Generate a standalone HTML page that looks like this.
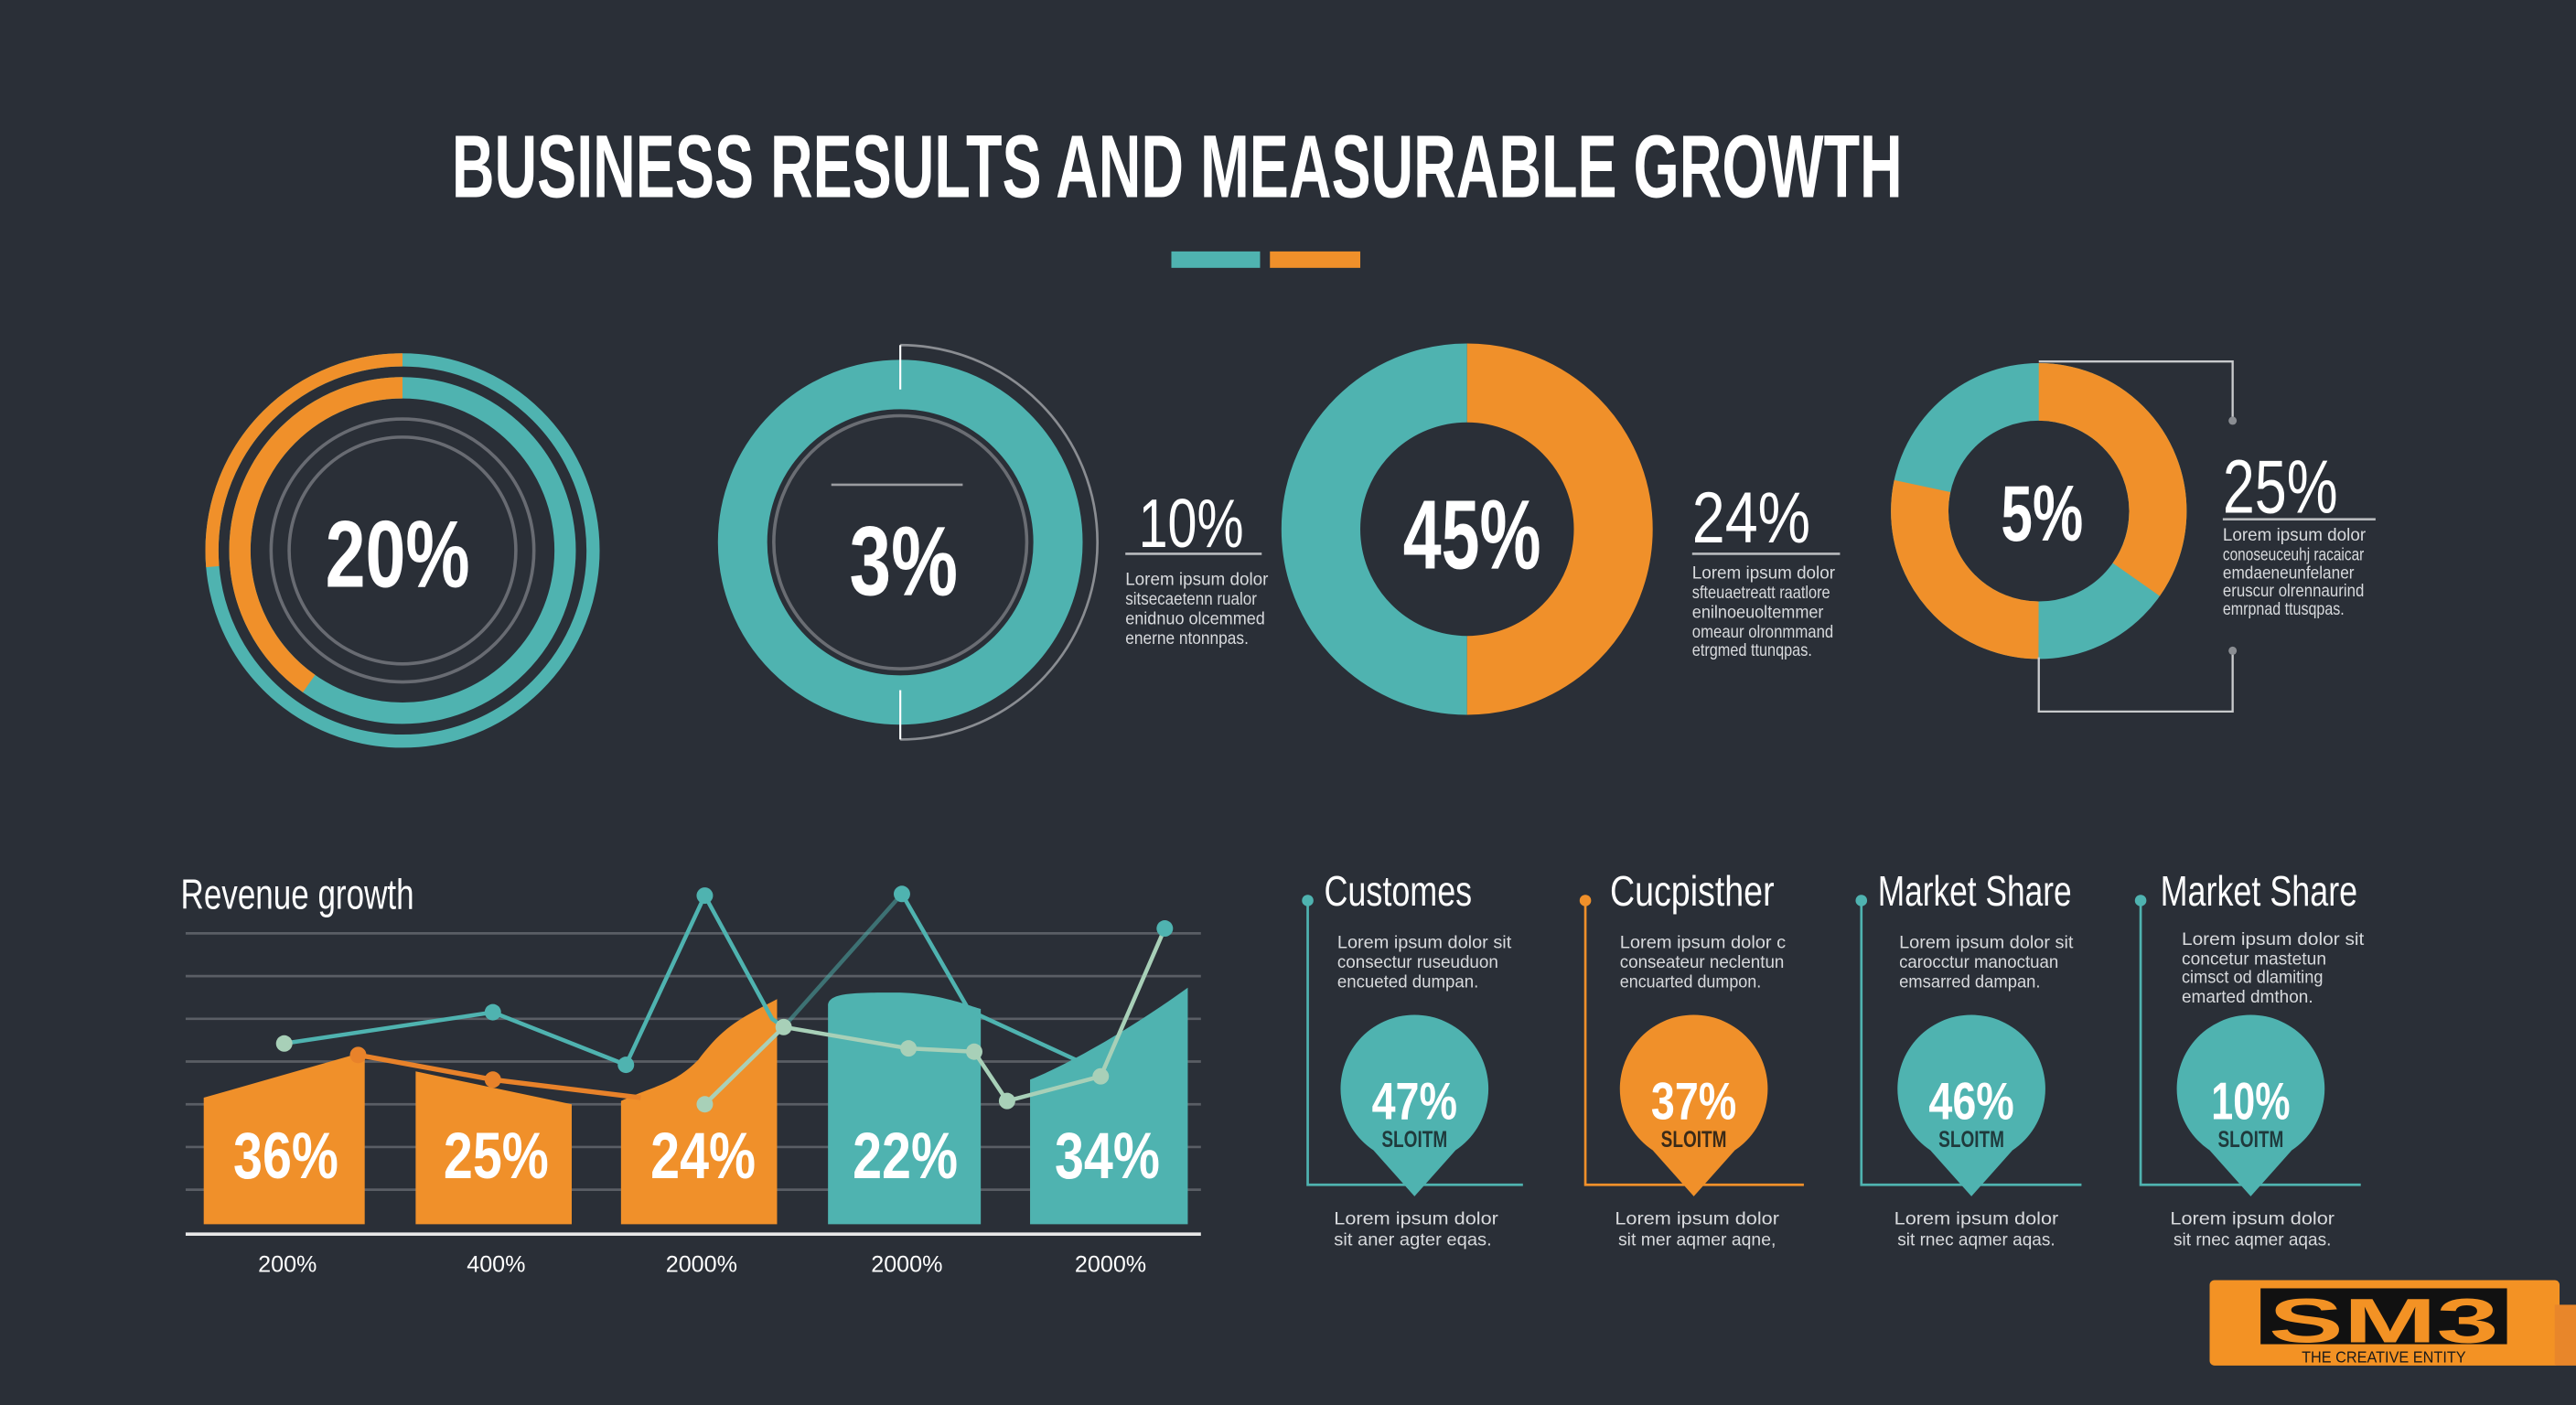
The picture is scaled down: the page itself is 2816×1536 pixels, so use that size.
<!DOCTYPE html>
<html><head><meta charset="utf-8"><style>
html,body{margin:0;padding:0;background:#2a2f37;}
svg{display:block}
text{font-family:"Liberation Sans Narrow","Liberation Sans",sans-serif;}
.w{fill:#fff}
.l{fill:#d8dadd;font-size:11px}
</style></head><body>
<svg width="2816" height="1536" viewBox="0 0 1568 855" preserveAspectRatio="none" xmlns="http://www.w3.org/2000/svg">
<rect width="1568" height="855" fill="#2a2f37"/>
<!-- Title -->
<text x="275" y="120" class="w" font-size="54" font-weight="bold" textLength="883" lengthAdjust="spacingAndGlyphs">BUSINESS RESULTS AND MEASURABLE GROWTH</text>
<rect x="713" y="153" width="54" height="10" fill="#4fb3b0"/>
<rect x="773" y="153" width="55" height="10" fill="#f0902a"/>

<!-- Donut 1 -->
<g transform="translate(245,335)">
<circle r="116" fill="none" stroke="#4fb3b0" stroke-width="8"/>
<circle r="116" fill="none" stroke="#f0902a" stroke-width="8" transform="rotate(-90)" stroke-dasharray="0 536.6 192.3 1000"/>
<circle r="99" fill="none" stroke="#4fb3b0" stroke-width="13"/>
<circle r="99" fill="none" stroke="#f0902a" stroke-width="13" transform="rotate(-90)" stroke-dasharray="0 371.5 250.5 1000"/>
<circle r="80" fill="none" stroke="#686b72" stroke-width="2"/>
<circle r="69" fill="none" stroke="#686b72" stroke-width="2"/>
<text x="-3" y="22" text-anchor="middle" class="w" font-size="58" font-weight="bold" textLength="88" lengthAdjust="spacingAndGlyphs">20%</text>
</g>

<!-- Donut 2 -->
<g transform="translate(548,330)">
<circle r="96" fill="none" stroke="#4fb3b0" stroke-width="30"/>
<circle r="77" fill="none" stroke="#6a6d73" stroke-width="2"/>
<path d="M0,-120 A120,120 0 0 1 0,120" fill="none" stroke="#8a8d92" stroke-width="1.5"/>
<line x1="0" y1="-120" x2="0" y2="-93" stroke="#fff" stroke-width="1.2"/>
<line x1="0" y1="90" x2="0" y2="120" stroke="#fff" stroke-width="1.2"/>
<line x1="-42" y1="-35" x2="38" y2="-35" stroke="#9a9ca0" stroke-width="1.5"/>
<text x="2" y="32" text-anchor="middle" class="w" font-size="60" font-weight="bold" textLength="66" lengthAdjust="spacingAndGlyphs">3%</text>
</g>
<text x="693" y="333" class="w" font-size="42" textLength="64" lengthAdjust="spacingAndGlyphs">10%</text>
<line x1="685" y1="337" x2="768" y2="337" stroke="#b8babd" stroke-width="1.5"/>
<text x="685" y="356" class="l" textLength="87" lengthAdjust="spacingAndGlyphs">Lorem ipsum dolor</text>
<text x="685" y="368" class="l" textLength="80" lengthAdjust="spacingAndGlyphs">sitsecaetenn rualor</text>
<text x="685" y="380" class="l" textLength="85" lengthAdjust="spacingAndGlyphs">enidnuo olcemmed</text>
<text x="685" y="392" class="l" textLength="75" lengthAdjust="spacingAndGlyphs">enerne ntonnpas.</text>

<!-- Donut 3 -->
<g transform="translate(893,322)">
<path d="M0,-89 A89,89 0 0 0 0,89" fill="none" stroke="#4fb3b0" stroke-width="48"/>
<path d="M0,-89 A89,89 0 0 1 0,89" fill="none" stroke="#f0902a" stroke-width="48"/>
<text x="3" y="24" text-anchor="middle" class="w" font-size="60" font-weight="bold" textLength="84" lengthAdjust="spacingAndGlyphs">45%</text>
</g>
<text x="1030" y="330" class="w" font-size="44" textLength="72" lengthAdjust="spacingAndGlyphs">24%</text>
<line x1="1030" y1="337" x2="1120" y2="337" stroke="#b8babd" stroke-width="1.5"/>
<text x="1030" y="352" class="l" textLength="87" lengthAdjust="spacingAndGlyphs">Lorem ipsum dolor</text>
<text x="1030" y="364" class="l" textLength="84" lengthAdjust="spacingAndGlyphs">sfteuaetreatt raatlore</text>
<text x="1030" y="376" class="l" textLength="80" lengthAdjust="spacingAndGlyphs">enilnoeuoltemmer</text>
<text x="1030" y="388" class="l" textLength="86" lengthAdjust="spacingAndGlyphs">omeaur olronmmand</text>
<text x="1030" y="399" class="l" textLength="73" lengthAdjust="spacingAndGlyphs">etrgmed ttunqpas.</text>

<!-- Donut 4 -->
<g transform="translate(1241,311)">
<circle r="72.5" fill="none" stroke="#4fb3b0" stroke-width="35"/>
<circle r="72.5" fill="none" stroke="#f0902a" stroke-width="35" transform="rotate(-90)" stroke-dasharray="0 0 158.2 69.6 129 1000"/>
<text x="2" y="18" text-anchor="middle" class="w" font-size="48" font-weight="bold" textLength="50" lengthAdjust="spacingAndGlyphs">5%</text>
</g>
<polyline points="1241,220 1359,220 1359,255" fill="none" stroke="#c8cacc" stroke-width="1.3"/>
<circle cx="1359" cy="256" r="2.5" fill="#8a8d92"/>
<polyline points="1359,397 1359,433 1241,433 1241,400" fill="none" stroke="#c8cacc" stroke-width="1.3"/>
<circle cx="1359" cy="396" r="2.5" fill="#8a8d92"/>
<text x="1353" y="312" class="w" font-size="46" textLength="70" lengthAdjust="spacingAndGlyphs">25%</text>
<line x1="1353" y1="316" x2="1446" y2="316" stroke="#b8babd" stroke-width="1.5"/>
<text x="1353" y="329" class="l" textLength="87" lengthAdjust="spacingAndGlyphs">Lorem ipsum dolor</text>
<text x="1353" y="341" class="l" textLength="86" lengthAdjust="spacingAndGlyphs">conoseuceuhj racaicar</text>
<text x="1353" y="352" class="l" textLength="80" lengthAdjust="spacingAndGlyphs">emdaeneunfelaner</text>
<text x="1353" y="363" class="l" textLength="86" lengthAdjust="spacingAndGlyphs">eruscur olrennaurind</text>
<text x="1353" y="374" class="l" textLength="74" lengthAdjust="spacingAndGlyphs">emrpnad ttusqpas.</text>

<!-- Revenue chart -->
<text x="110" y="553" class="w" font-size="26" textLength="142" lengthAdjust="spacingAndGlyphs">Revenue growth</text>
<g stroke="#5a5e65" stroke-width="1.5">
<line x1="113" y1="568" x2="731" y2="568"/><line x1="113" y1="594" x2="731" y2="594"/>
<line x1="113" y1="620" x2="731" y2="620"/><line x1="113" y1="646" x2="731" y2="646"/>
<line x1="113" y1="672" x2="731" y2="672"/><line x1="113" y1="698" x2="731" y2="698"/>
<line x1="113" y1="724" x2="731" y2="724"/>
</g>
<path d="M124,668 L222,640 L222,745 L124,745Z" fill="#f0902a"/>
<path d="M253,652 L348,672 L348,745 L253,745Z" fill="#f0902a"/>
<path d="M378,670 C400,660 410,660 425,645 C440,625 450,620 473,608 L473,745 L378,745Z" fill="#f0902a"/>
<path d="M504,612 C504,604 520,604 545,604 C570,604 590,612 597,614 L597,745 L504,745Z" fill="#4fb3b0"/>
<path d="M627,657 C650,648 690,625 723,601 L723,745 L627,745Z" fill="#4fb3b0"/>
<polyline points="218,642 300,657 390,668" fill="none" stroke="#e8822a" stroke-width="3"/>
<circle cx="218" cy="642" r="5" fill="#e8822a"/><circle cx="300" cy="657" r="5" fill="#e8822a"/>
<polyline points="173,635 300,616 381,648 429,545 470,620 477,625" fill="none" stroke="#4fb3b0" stroke-width="2.5"/>
<polyline points="549,544 590,615 655,645" fill="none" stroke="#4fb3b0" stroke-width="2.5"/>
<polyline points="477,625 549,544" fill="none" stroke="#4fb3b0" stroke-width="2.5" stroke-opacity="0.5"/>
<polyline points="429,672 477,625 553,638 593,640 613,670 670,655 709,565" fill="none" stroke="#a8d0b8" stroke-width="2.5"/>
<g fill="#4fb3b0"><circle cx="300" cy="616" r="5"/><circle cx="381" cy="648" r="5"/><circle cx="429" cy="545" r="5"/><circle cx="549" cy="544" r="5"/><circle cx="709" cy="565" r="5"/></g>
<g fill="#a8d0b8"><circle cx="173" cy="635" r="5"/><circle cx="429" cy="672" r="5"/><circle cx="477" cy="625" r="5"/><circle cx="553" cy="638" r="5"/><circle cx="593" cy="640" r="5"/><circle cx="613" cy="670" r="5"/><circle cx="670" cy="655" r="5"/></g>
<g class="w" font-size="40" font-weight="bold" text-anchor="middle">
<text x="174" y="717" textLength="64" lengthAdjust="spacingAndGlyphs">36%</text>
<text x="302" y="717" textLength="64" lengthAdjust="spacingAndGlyphs">25%</text>
<text x="428" y="717" textLength="64" lengthAdjust="spacingAndGlyphs">24%</text>
<text x="551" y="717" textLength="64" lengthAdjust="spacingAndGlyphs">22%</text>
<text x="674" y="717" textLength="64" lengthAdjust="spacingAndGlyphs">34%</text>
</g>
<line x1="113" y1="751" x2="731" y2="751" stroke="#e8e8e8" stroke-width="2"/>
<g class="w" font-size="14" text-anchor="middle">
<text x="175" y="774">200%</text><text x="302" y="774">400%</text><text x="427" y="774">2000%</text><text x="552" y="774">2000%</text><text x="676" y="774">2000%</text>
</g>

<!-- Right panels -->
<g id="p1">
<circle cx="796" cy="548" r="3.5" fill="#4fb3b0"/>
<polyline points="796,548 796,721 927,721" fill="none" stroke="#4fb3b0" stroke-width="1.5"/>
<text x="806" y="551" class="w" font-size="26" textLength="90" lengthAdjust="spacingAndGlyphs">Customes</text>
<text x="814" y="577" class="l" textLength="106" lengthAdjust="spacingAndGlyphs">Lorem ipsum dolor sit</text>
<text x="814" y="589" class="l" textLength="98" lengthAdjust="spacingAndGlyphs">consectur ruseuduon</text>
<text x="814" y="601" class="l" textLength="86" lengthAdjust="spacingAndGlyphs">encueted dumpan.</text>
<path d="M861,728 L836,700 A45,45 0 1 1 886,700Z" fill="#4fb3b0"/>
<text x="861" y="681" text-anchor="middle" class="w" font-size="32" font-weight="bold" textLength="52" lengthAdjust="spacingAndGlyphs">47%</text>
<text x="861" y="698" text-anchor="middle" fill="#1f3a3c" font-size="14" font-weight="bold" textLength="40" lengthAdjust="spacingAndGlyphs">SLOITM</text>
<text x="862" y="745" text-anchor="middle" class="l" font-size="12" textLength="100" lengthAdjust="spacingAndGlyphs">Lorem ipsum dolor</text>
<text x="860" y="758" text-anchor="middle" class="l" font-size="12" textLength="96" lengthAdjust="spacingAndGlyphs">sit aner agter eqas.</text>
</g>
<g>
<circle cx="965" cy="548" r="3.5" fill="#f0902a"/>
<polyline points="965,548 965,721 1098,721" fill="none" stroke="#f0902a" stroke-width="1.5"/>
<text x="980" y="551" class="w" font-size="26" textLength="100" lengthAdjust="spacingAndGlyphs">Cucpisther</text>
<text x="986" y="577" class="l" textLength="101" lengthAdjust="spacingAndGlyphs">Lorem ipsum dolor c</text>
<text x="986" y="589" class="l" textLength="100" lengthAdjust="spacingAndGlyphs">conseateur neclentun</text>
<text x="986" y="601" class="l" textLength="86" lengthAdjust="spacingAndGlyphs">encuarted dumpon.</text>
<path d="M1031,728 L1006,700 A45,45 0 1 1 1056,700Z" fill="#f0902a"/>
<text x="1031" y="681" text-anchor="middle" class="w" font-size="32" font-weight="bold" textLength="52" lengthAdjust="spacingAndGlyphs">37%</text>
<text x="1031" y="698" text-anchor="middle" fill="#3a2a18" font-size="14" font-weight="bold" textLength="40" lengthAdjust="spacingAndGlyphs">SLOITM</text>
<text x="1033" y="745" text-anchor="middle" class="l" font-size="12" textLength="100" lengthAdjust="spacingAndGlyphs">Lorem ipsum dolor</text>
<text x="1033" y="758" text-anchor="middle" class="l" font-size="12" textLength="96" lengthAdjust="spacingAndGlyphs">sit mer aqmer aqne,</text>
</g>
<g>
<circle cx="1133" cy="548" r="3.5" fill="#4fb3b0"/>
<polyline points="1133,548 1133,721 1267,721" fill="none" stroke="#4fb3b0" stroke-width="1.5"/>
<text x="1143" y="551" class="w" font-size="26" textLength="118" lengthAdjust="spacingAndGlyphs">Market Share</text>
<text x="1156" y="577" class="l" textLength="106" lengthAdjust="spacingAndGlyphs">Lorem ipsum dolor sit</text>
<text x="1156" y="589" class="l" textLength="97" lengthAdjust="spacingAndGlyphs">carocctur manoctuan</text>
<text x="1156" y="601" class="l" textLength="86" lengthAdjust="spacingAndGlyphs">emsarred dampan.</text>
<path d="M1200,728 L1175,700 A45,45 0 1 1 1225,700Z" fill="#4fb3b0"/>
<text x="1200" y="681" text-anchor="middle" class="w" font-size="32" font-weight="bold" textLength="52" lengthAdjust="spacingAndGlyphs">46%</text>
<text x="1200" y="698" text-anchor="middle" fill="#1f3a3c" font-size="14" font-weight="bold" textLength="40" lengthAdjust="spacingAndGlyphs">SLOITM</text>
<text x="1203" y="745" text-anchor="middle" class="l" font-size="12" textLength="100" lengthAdjust="spacingAndGlyphs">Lorem ipsum dolor</text>
<text x="1203" y="758" text-anchor="middle" class="l" font-size="12" textLength="96" lengthAdjust="spacingAndGlyphs">sit rnec aqmer aqas.</text>
</g>
<g>
<circle cx="1303" cy="548" r="3.5" fill="#4fb3b0"/>
<polyline points="1303,548 1303,721 1437,721" fill="none" stroke="#4fb3b0" stroke-width="1.5"/>
<text x="1315" y="551" class="w" font-size="26" textLength="120" lengthAdjust="spacingAndGlyphs">Market Share</text>
<text x="1328" y="575" class="l" textLength="111" lengthAdjust="spacingAndGlyphs">Lorem ipsum dolor sit</text>
<text x="1328" y="587" class="l" textLength="88" lengthAdjust="spacingAndGlyphs">concetur mastetun</text>
<text x="1328" y="598" class="l" textLength="86" lengthAdjust="spacingAndGlyphs">cimsct od dlamiting</text>
<text x="1328" y="610" class="l" textLength="80" lengthAdjust="spacingAndGlyphs">emarted dmthon.</text>
<path d="M1370,728 L1345,700 A45,45 0 1 1 1395,700Z" fill="#4fb3b0"/>
<text x="1370" y="681" text-anchor="middle" class="w" font-size="32" font-weight="bold" textLength="48" lengthAdjust="spacingAndGlyphs">10%</text>
<text x="1370" y="698" text-anchor="middle" fill="#1f3a3c" font-size="14" font-weight="bold" textLength="40" lengthAdjust="spacingAndGlyphs">SLOITM</text>
<text x="1371" y="745" text-anchor="middle" class="l" font-size="12" textLength="100" lengthAdjust="spacingAndGlyphs">Lorem ipsum dolor</text>
<text x="1371" y="758" text-anchor="middle" class="l" font-size="12" textLength="96" lengthAdjust="spacingAndGlyphs">sit rnec aqmer aqas.</text>
</g>

<!-- Logo -->
<rect x="1345" y="779" width="213" height="52" rx="3" fill="#f39224"/>
<rect x="1555" y="794" width="13" height="37" fill="#e8862a"/>
<rect x="1376" y="784" width="150" height="34" fill="#111"/>
<text x="1451" y="817" text-anchor="middle" fill="#f39224" font-size="38" font-weight="bold" textLength="140" lengthAdjust="spacingAndGlyphs">SM3</text>
<text x="1451" y="829" text-anchor="middle" fill="#1a1a1a" font-size="10" textLength="100" lengthAdjust="spacingAndGlyphs">THE CREATIVE ENTITY</text>
</svg>
</body></html>
